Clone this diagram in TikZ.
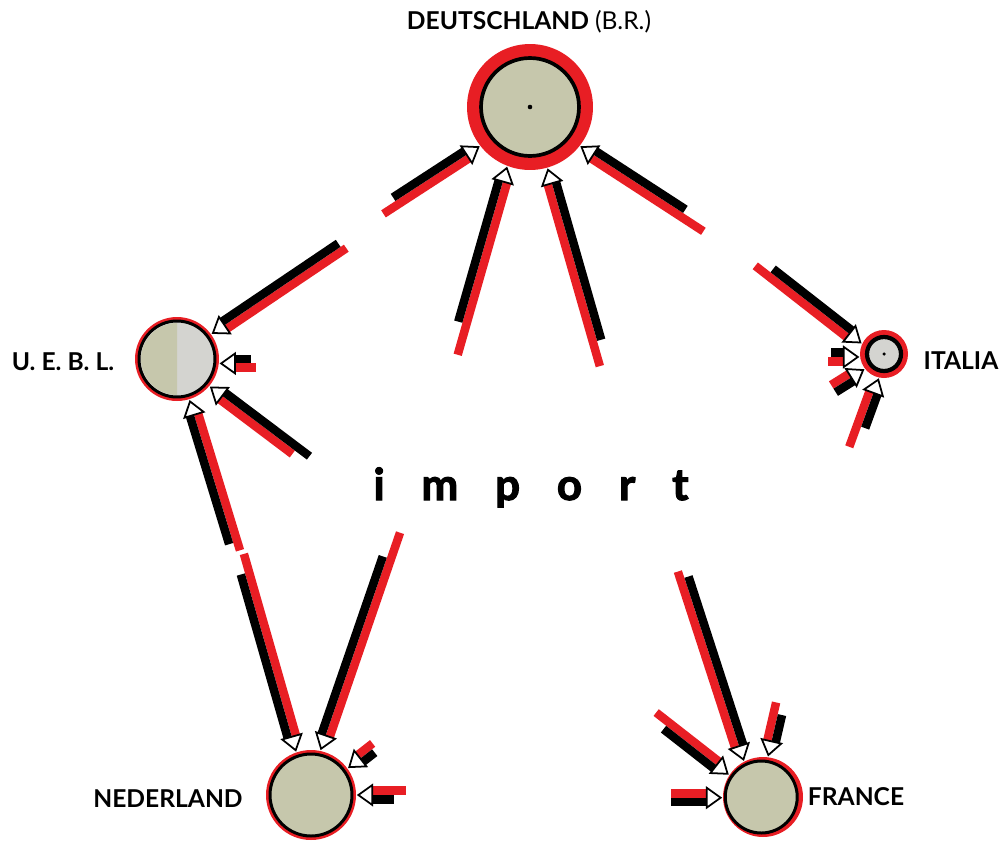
\documentclass[tikz,border=0pt]{standalone}
\usepackage{fontspec}
\setmainfont{Lato}
\definecolor{flowred}{RGB}{232,30,36}
\definecolor{discgreen}{RGB}{198,199,172}
\definecolor{discgray}{RGB}{212,212,208}
\begin{document}
\begin{tikzpicture}[
  x=0.02cm, y=-0.02cm,
  every node/.style={font=\bfseries\fontsize{14}{14}\selectfont},
  country/.style={circle, fill=flowred, inner sep=0pt},
  disc/.style={circle, draw=black, line width=1.7pt, fill=discgreen, inner sep=0pt},
  redbar/.style={draw=flowred, line width=0.17cm},
  blackbar/.style={draw=black, line width=0.17cm},
  headtip/.style={fill=white, draw=black, line width=1pt, line join=miter}
]
\useasboundingbox (0,0) rectangle (1006,842);

% countries
\node[country, minimum size=2.52cm] (de) at (530,107) {};
\node[disc, line width=2.1pt, minimum size=1.96cm] at (de) {};
\fill (de) circle[radius=1.3pt];
\node[country, minimum size=1.68cm] (ue) at (177,359) {};
\node[disc, fill=discgray, minimum size=1.52cm] at (ue) {};
\begin{scope}
  \clip (120,300) rectangle (177,420);
  \fill[discgreen] (ue) circle[radius=0.72cm];
\end{scope}
\node[country, minimum size=0.96cm] (it) at (884,354) {};
\node[disc, fill=discgray, line width=2.4pt, minimum size=0.68cm] at (it) {};
\fill (it) circle[radius=1pt];
\node[country, minimum size=1.8cm] (nl) at (311,795) {};
\node[disc, minimum size=1.64cm] at (nl) {};
\node[country, minimum size=1.6cm] (fr) at (763,797) {};
\node[disc, minimum size=1.44cm] at ([xshift=-1pt]fr.center) {};

% flows: country/anchor/direction/red length/black length/side of black
\foreach \ctry/\a/\d/\rl/\bl/\s in {
  de/218/213/118/101/-1, de/249/254/195/163/-1, de/286/286/205/180/1, de/322/327/150/123/1,
  ue/36/34/160/156/1, ue/354/0/37/32/1, ue/320/323/107/122/1, ue/287/287/159/150/-1,
  nl/109/106/205/186/1, nl/78/71/232/204/1, nl/36/38/35/31/-1, nl/0/0/50/38/-1,
  fr/118/108/201/193/-1, fr/83/77/55/44/-1, fr/147/142/96/80/1, fr/181/180/52/52/1,
  it/155/142/132/116/-1, it/187/180/32/29/-1, it/218/212/37/37/1, it/258/250/75/52/1}
{
  \begin{scope}[shift={(\ctry.\a)}, rotate=\d, x=0.02cm, y=0.02cm]
    \draw[redbar] (13,{-4.3*\s}) -- (\rl,{-4.3*\s});
    \draw[blackbar] (13,{4.3*\s}) -- (\bl,{4.3*\s});
    \draw[headtip] (2,0) -- (16,10) -- (16,-10) -- cycle;
  \end{scope}
}

% labels
\node (de-lbl) at (529,22) {DEUTSCHLAND {\mdseries(B.R.)}};
\node (ue-lbl) at (63,362) {U. E. B. L.};
\node (it-lbl) at (961,361) {ITALIA};
\node (nl-lbl) at (168,799) {NEDERLAND};
\node (fr-lbl) at (856,797) {FRANCE};
\node[font=\bfseries\fontsize{25}{25}\selectfont\addfontfeatures{FakeBold=2.5}, anchor=base] (import)
  at (531,500) {\makebox[6.3cm]{i\hfill m\hfill p\hfill o\hfill r\hfill t}};
\end{tikzpicture}
\end{document}
